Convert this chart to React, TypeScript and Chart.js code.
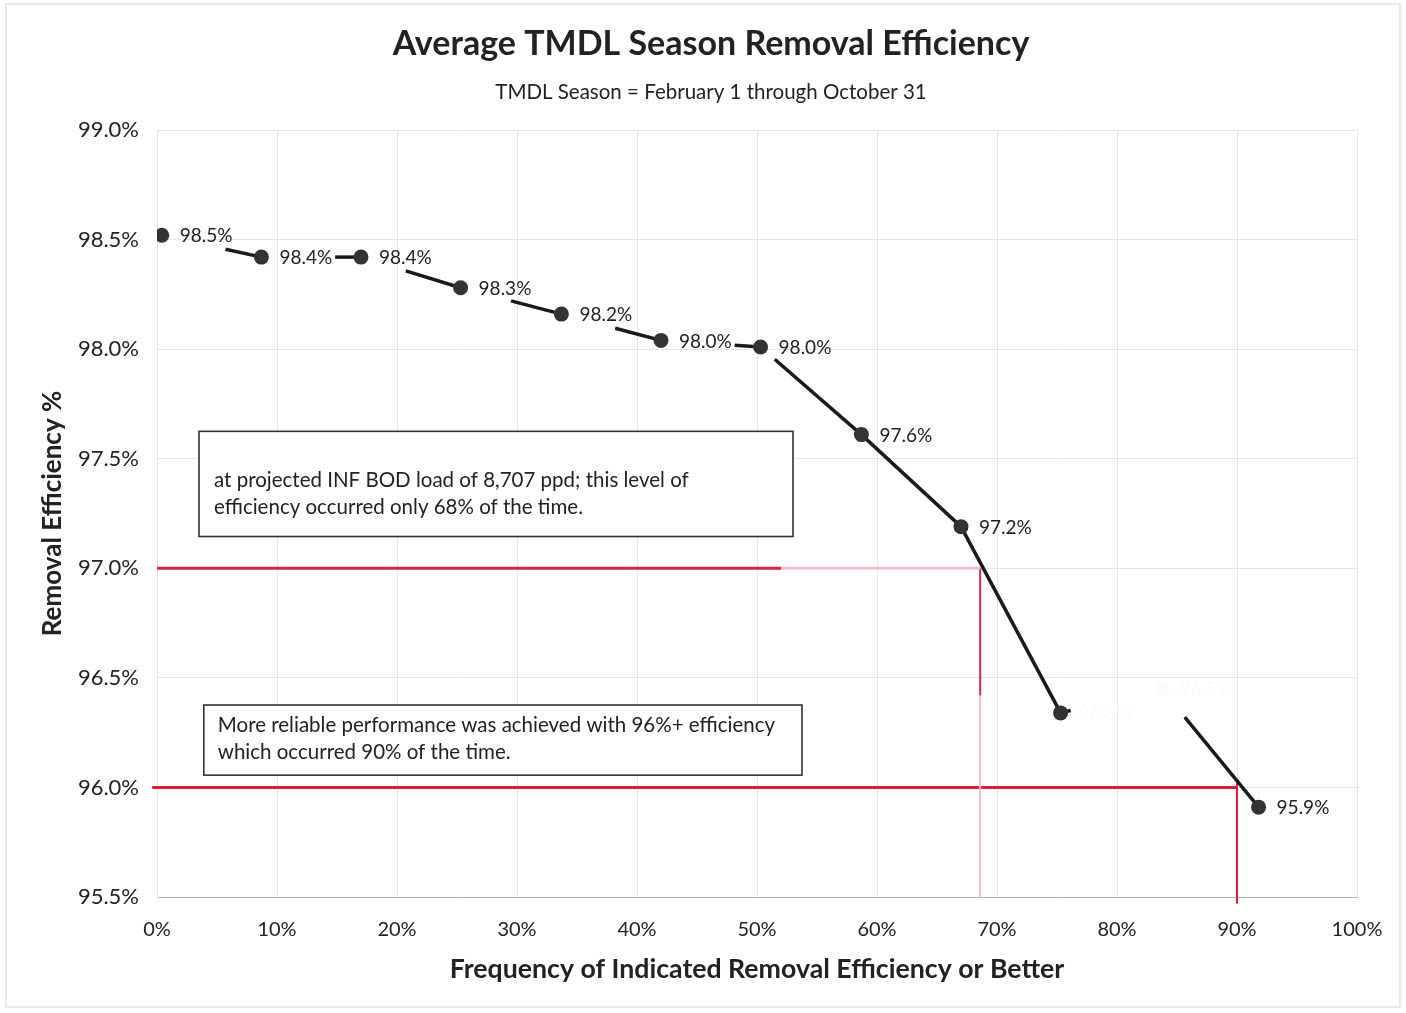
import React, { useEffect, useRef } from "react";
import { Chart, registerables } from "chart.js";

Chart.register(...registerables);

// ---- data ----
const frequencyPct = [0.4, 8.7, 17.0, 25.3, 33.7, 42.0, 50.3, 58.7, 67.0, 75.3, 83.7, 91.8];
const removalEfficiency = [98.52, 98.42, 98.42, 98.28, 98.16, 98.04, 98.01, 97.61, 97.19, 96.34, 96.45, 95.91];
const pointLabels = ["98.5%", "98.4%", "98.4%", "98.3%", "98.2%", "98.0%", "98.0%", "97.6%", "97.2%", "96.3%", "96.5%", "95.9%"];
const fadedLabel = [false, false, false, false, false, false, false, false, false, true, true, false];
const fadedPoint = [false, false, false, false, false, false, false, false, false, false, true, false];

const yTicks = [95.5, 96.0, 96.5, 97.0, 97.5, 98.0, 98.5, 99.0];
const xTicks = [0, 10, 20, 30, 40, 50, 60, 70, 80, 90, 100];

const target97Level = 97.0;
const target97Freq = 68.6;
const target97FadeX = 52;
const target97FadeY = 96.42;
const target96Level = 96.0;
const target96Freq = 90.0;

const titleText = "Average TMDL Season Removal Efficiency";
const subtitleText = "TMDL Season = February 1 through October 31";
const note1Lines = ["", "at projected INF BOD load of 8,707 ppd; this level of", "efficiency occurred only 68% of the time."];
const note2Lines = ["More reliable performance was achieved with 96%+ efficiency", "which occurred 90% of the time."];

// style: visible [head, tail] fraction of each line segment (faded scan look)
const segmentVisible: [number, number][] = [
  [0, 0.36], [0, 0.26], [0, 0.55], [0, 0.5], [0, 0.46], [0, 0.26],
  [0, 0.86], [1, 0], [1, 0], [0.1, 0], [0, 0.76],
];

const FONT = "Lato, 'Open Sans', sans-serif";
const RED = "#d8264a";
const PINK = "#f5bccb";

export default function App() {
  const ref = useRef<HTMLCanvasElement | null>(null);

  useEffect(() => {
    document.body.style.margin = "0";
    const canvas = ref.current;
    if (!canvas) return;

    const mainData = frequencyPct.map((x, i) => ({ x, y: removalEfficiency[i] }));

    const labelPlugin = {
      id: "pointLabels",
      afterDatasetsDraw(chart: any) {
        const meta = chart.getDatasetMeta(0);
        const ctx = chart.ctx;
        ctx.save();
        ctx.font = `19px ${FONT}`;
        ctx.textBaseline = "middle";
        ctx.textAlign = "left";
        meta.data.forEach((pt: any, i: number) => {
          ctx.fillStyle = fadedLabel[i] ? "#fafafa" : "#222";
          ctx.fillText(pointLabels[i], pt.x + 18, pt.y + 1);
        });
        ctx.restore();
      },
    };

    const notes = [
      { x0: 3.5, x1: 53.0, y0: 97.625, y1: 97.145, lines: note1Lines, pad: 15, first: 22 },
      { x0: 3.9, x1: 53.75, y0: 96.376, y1: 96.056, lines: note2Lines, pad: 14, first: 20 },
    ];

    const notePlugin = {
      id: "notes",
      beforeDatasetsDraw(chart: any) {
        const { ctx, scales } = chart;
        const xs = scales.x;
        const ys = scales.y;
        notes.forEach((n) => {
          const l = xs.getPixelForValue(n.x0);
          const r = xs.getPixelForValue(n.x1);
          const t = ys.getPixelForValue(n.y0);
          const b = ys.getPixelForValue(n.y1);
          ctx.save();
          ctx.fillStyle = "#fff";
          ctx.fillRect(l, t, r - l, b - t);
          ctx.strokeStyle = "#333";
          ctx.lineWidth = 1.6;
          ctx.strokeRect(l, t, r - l, b - t);
          ctx.beginPath();
          ctx.rect(l, t, r - l - 3, b - t);
          ctx.clip();
          ctx.fillStyle = "#222";
          ctx.font = `20.5px ${FONT}`;
          ctx.textBaseline = "middle";
          ctx.textAlign = "left";
          n.lines.forEach((line, i) => {
            ctx.fillText(line, l + n.pad, t + n.first + i * 27);
          });
          ctx.restore();
        });
      },
    };

    const framePlugin = {
      id: "frame",
      beforeDraw(chart: any) {
        const ctx = chart.ctx;
        ctx.save();
        ctx.fillStyle = "#fff";
        ctx.fillRect(0, 0, chart.width, chart.height);
        ctx.strokeStyle = "#e2e2e2";
        ctx.lineWidth = 1.5;
        ctx.strokeRect(6, 4, chart.width - 12, chart.height - 10);
        ctx.fillStyle = "#222";
        ctx.textAlign = "center";
        ctx.textBaseline = "middle";
        ctx.font = `bold 34px ${FONT}`;
        ctx.fillText(titleText, 711, 44);
        ctx.font = `20.5px ${FONT}`;
        ctx.fillText(subtitleText, 711, 92);
        ctx.restore();
      },
    };

    const chart = new Chart(canvas, {
      type: "line",
      data: {
        datasets: [
          {
            data: mainData,
            borderColor: "#1a1a1a",
            borderWidth: 3.5,
            pointRadius: 7.5,
            pointHoverRadius: 7.5,
            pointBorderWidth: 0,
            pointBackgroundColor: frequencyPct.map((_, i) => (fadedPoint[i] ? "rgba(0,0,0,0.015)" : "#333")),
            pointBorderColor: "transparent",
            tension: 0,
            segment: {
              borderDash: (c: any) => {
                const vis = segmentVisible[c.p0DataIndex];
                if (!vis || vis[0] >= 1) return undefined;
                const L = Math.hypot(c.p1.x - c.p0.x, c.p1.y - c.p0.y);
                const h = vis[0] * L;
                const t = vis[1] * L;
                return [h, Math.max(L - h - t, 0), t, 2000 + c.p0DataIndex];
              },
            },
          },
          {
            data: [
              { x: 0, y: target97Level },
              { x: target97FadeX, y: target97Level },
            ],
            borderColor: RED,
            borderWidth: 3,
            pointRadius: 0,
          },
          {
            data: [
              { x: target97FadeX, y: target97Level },
              { x: target97Freq, y: target97Level },
            ],
            borderColor: PINK,
            borderWidth: 3,
            pointRadius: 0,
          },
          {
            data: [
              { x: target97Freq, y: target97Level },
              { x: target97Freq, y: target97FadeY },
            ],
            borderColor: RED,
            borderWidth: 2,
            pointRadius: 0,
          },
          {
            data: [
              { x: target97Freq, y: target97FadeY },
              { x: target97Freq, y: 95.5 },
            ],
            borderColor: PINK,
            borderWidth: 2,
            pointRadius: 0,
          },
          {
            data: [
              { x: -0.4, y: target96Level },
              { x: target96Freq, y: target96Level },
            ],
            borderColor: "#e01c3c",
            borderWidth: 3,
            pointRadius: 0,
            clip: false as any,
          },
          {
            data: [
              { x: target96Freq, y: target96Level + 0.02 },
              { x: target96Freq, y: 95.47 },
            ],
            borderColor: "#e01c3c",
            borderWidth: 2,
            pointRadius: 0,
            clip: false as any,
          },
        ],
      },
      options: {
        animation: false,
        responsive: false,
        maintainAspectRatio: false,
        events: [],
        layout: { padding: { left: 30, right: 49, top: 130, bottom: 20 } },
        plugins: {
          legend: { display: false },
          tooltip: { enabled: false },
          title: { display: false },
          subtitle: { display: false },
        },
        scales: {
          x: {
            type: "linear",
            min: 0,
            max: 100,
            afterBuildTicks: (s: any) => {
              s.ticks = xTicks.map((v) => ({ value: v }));
            },
            afterFit: (s: any) => {
              s.height = 96;
            },
            ticks: {
              callback: (v: any) => `${v}%`,
              color: "#222",
              font: { family: FONT, size: 20 },
              padding: 21,
              maxRotation: 0,
            },
            grid: { color: "#e6e6e6", lineWidth: 1, drawTicks: false },
            border: { color: "#b5b5b5", width: 1 },
            title: {
              display: true,
              text: "Frequency of Indicated Removal Efficiency or Better",
              color: "#222",
              font: { family: FONT, size: 26.7, weight: "bold" },
              padding: { top: 0, bottom: 8 },
            },
          },
          y: {
            type: "linear",
            min: 95.5,
            max: 99.0,
            afterBuildTicks: (s: any) => {
              s.ticks = yTicks.map((v) => ({ value: v }));
            },
            afterFit: (s: any) => {
              s.width = 127;
            },
            ticks: {
              callback: (v: any) => `${Number(v).toFixed(1)}%`,
              color: "#222",
              font: { family: FONT, size: 22 },
              padding: 18,
            },
            grid: { color: "#e6e6e6", lineWidth: 1, drawTicks: false },
            border: { color: "#e6e6e6", width: 1 },
            title: {
              display: true,
              text: "Removal Efficiency %",
              color: "#222",
              font: { family: FONT, size: 26, weight: "bold" },
              padding: { top: 7, bottom: 0 },
            },
          },
        },
      },
      plugins: [framePlugin, notePlugin, labelPlugin],
    });

    return () => chart.destroy();
  }, []);

  return (
    <div style={{ width: 1406, height: 1013 }}>
      <canvas ref={ref} width={1406} height={1013} style={{ display: "block" }} />
    </div>
  );
}
